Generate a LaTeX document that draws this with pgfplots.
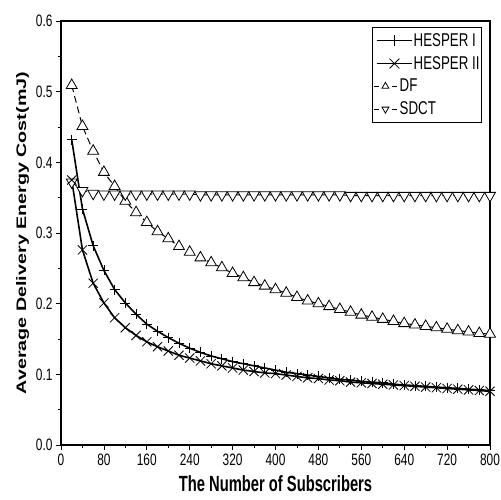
\documentclass[border=0pt]{standalone}
\usepackage{pgfplots}
\pgfplotsset{compat=1.18}
\usepackage{fontspec}
\usepackage{graphicx}
\setmainfont{Liberation Sans}
\newfontfamily\condfont{Liberation Sans}[FakeStretch=0.72]
\newfontfamily\xlabfont{Liberation Sans}[FakeStretch=0.67]

\pgfplotsset{
  hesper leg/.style={legend image code/.code={\path (-3bp,0bp); \draw[mark repeat=2,mark phase=2,##1] plot coordinates {(0bp,0bp)(17.5bp,0bp)(35bp,0bp)};}},
  tri leg/.style={legend image code/.code={\draw[##1, solid] (-3bp,0bp) -- (2bp,0bp) (15bp,0bp) -- (20bp,0bp); \draw[##1] plot[only marks] coordinates {(8.5bp,0bp)}; \path (35bp,0bp);}},
}

\pgfplotstableread{
x y
20 0.432
40 0.334
60 0.282
80 0.247
100 0.220
120 0.201
140 0.185
160 0.171
180 0.161
200 0.152
220 0.144
240 0.137
260 0.131
280 0.126
300 0.122
320 0.118
340 0.115
360 0.112
380 0.109
400 0.106
420 0.103
440 0.101
460 0.099
480 0.097
500 0.095
520 0.093
540 0.092
560 0.090
580 0.089
600 0.088
620 0.086
640 0.085
660 0.084
680 0.083
700 0.082
720 0.081
740 0.080
760 0.079
780 0.078
800 0.077
}\hesperI

\pgfplotstableread{
x y
20 0.375
40 0.276
60 0.229
80 0.201
100 0.180
120 0.166
140 0.155
160 0.146
180 0.139
200 0.133
220 0.127
240 0.123
260 0.119
280 0.115
300 0.112
320 0.109
340 0.106
360 0.104
380 0.102
400 0.101
420 0.099
440 0.097
460 0.095
480 0.094
500 0.092
520 0.091
540 0.089
560 0.088
580 0.087
600 0.086
620 0.085
640 0.084
660 0.083
680 0.082
700 0.081
720 0.080
740 0.079
760 0.078
780 0.077
800 0.076
}\hesperII

\pgfplotstableread{
x y
20 0.509
40 0.451
60 0.416
80 0.386
100 0.366
120 0.345
140 0.329
160 0.315
180 0.302
200 0.292
220 0.281
240 0.273
260 0.265
280 0.258
300 0.251
320 0.243
340 0.237
360 0.230
380 0.225
400 0.220
420 0.215
440 0.209
460 0.204
480 0.200
500 0.196
520 0.192
540 0.188
560 0.184
580 0.181
600 0.178
620 0.175
640 0.172
660 0.170
680 0.168
700 0.166
720 0.164
740 0.162
760 0.160
780 0.158
800 0.157
}\df

\pgfplotstableread{
x y
20 0.372
40 0.360
60 0.356
80 0.355
100 0.355
120 0.355
140 0.355
160 0.355
180 0.355
200 0.355
220 0.355
240 0.355
260 0.354
280 0.354
300 0.354
320 0.354
340 0.354
360 0.354
380 0.354
400 0.354
420 0.354
440 0.354
460 0.354
480 0.354
500 0.354
520 0.354
540 0.353
560 0.353
580 0.353
600 0.353
620 0.353
640 0.353
660 0.353
680 0.353
700 0.353
720 0.353
740 0.353
760 0.353
780 0.353
800 0.353
}\sdct

\begin{document}
\begin{tikzpicture}
\begin{axis}[name=ax, scale only axis, width=429bp, height=424bp,
  xmin=0, xmax=800, ymin=0, ymax=0.6,
  xtick={0,80,160,240,320,400,480,560,640,720,800},
  ytick={0,0.1,0.2,0.3,0.4,0.5,0.6},
  minor x tick num=1, minor y tick num=1,
  tick align=outside, tick pos=left,
  major tick length=5bp, minor tick length=3bp,
  every tick/.style={black, line width=0.8bp},
  axis line style={line width=1.3bp},
  /pgf/number format/assume math mode=true,
  ticklabel style={font=\condfont\fontsize{16.5bp}{18bp}\selectfont},
  yticklabel style={/pgf/number format/fixed, /pgf/number format/fixed zerofill, /pgf/number format/precision=1},
  scaled y ticks=false,
  xlabel={\xlabfont\bfseries\fontsize{22bp}{24bp}\selectfont The Number of Subscribers},
  xlabel style={yshift=-4bp},
  ylabel={\scalebox{1}[0.7]{\bfseries\fontsize{19.7bp}{21bp}\selectfont Average Delivery Energy Cost(mJ)}},
  legend style={at={(axis description cs:1,1)}, anchor=north east, xshift=-8bp, yshift=-6bp,
    draw=black, line width=0.8bp, inner xsep=1bp, inner ysep=5bp, row sep=6.5bp,
    nodes={inner sep=1bp},
    font=\condfont\fontsize{18.5bp}{20bp}\selectfont},
  legend cell align=left,
]
\addlegendimage{hesper leg, black, line width=1.6bp, mark=+, mark size=5.5bp, mark options={line width=0.8bp, solid}}
\addlegendentry{HESPER I}
\addlegendimage{hesper leg, black, line width=1.6bp, mark=x, mark size=7bp, mark options={line width=0.8bp, solid}}
\addlegendentry{HESPER II}
\addlegendimage{tri leg, black, line width=1bp, mark=triangle*, mark size=4bp, mark options={solid, fill=white, draw=black, line width=0.8bp}}
\addlegendentry{\hspace*{-14bp}DF}
\addlegendimage{tri leg, black, line width=1bp, mark=triangle*, mark size=4bp, mark options={solid, fill=white, draw=black, line width=0.8bp, rotate=180}}
\addlegendentry{\hspace*{-14bp}SDCT}

\addplot[forget plot, black, line width=1bp, dash pattern=on 7bp off 4bp, mark=triangle*, mark size=6.3bp,
  mark options={solid, fill=white, draw=black, line width=0.8bp}] table[x=x,y=y] {\df};
\addplot[forget plot, black, line width=1bp, dash pattern=on 7bp off 4bp, mark=triangle*, mark size=6.3bp,
  mark options={solid, fill=white, draw=black, line width=0.8bp, rotate=180}] table[x=x,y=y] {\sdct};
\addplot[forget plot, black, line width=1.6bp, mark=+, mark size=5bp, mark options={line width=0.8bp, solid}] table[x=x,y=y] {\hesperI};
\addplot[forget plot, black, line width=1.6bp, mark=x, mark size=6.5bp, mark options={line width=0.8bp, solid}] table[x=x,y=y] {\hesperII};
\end{axis}
\pgfresetboundingbox
\useasboundingbox ([xshift=-61bp,yshift=-55bp]ax.south west) rectangle ([xshift=11bp,yshift=21bp]ax.north east);
\end{tikzpicture}
\end{document}
